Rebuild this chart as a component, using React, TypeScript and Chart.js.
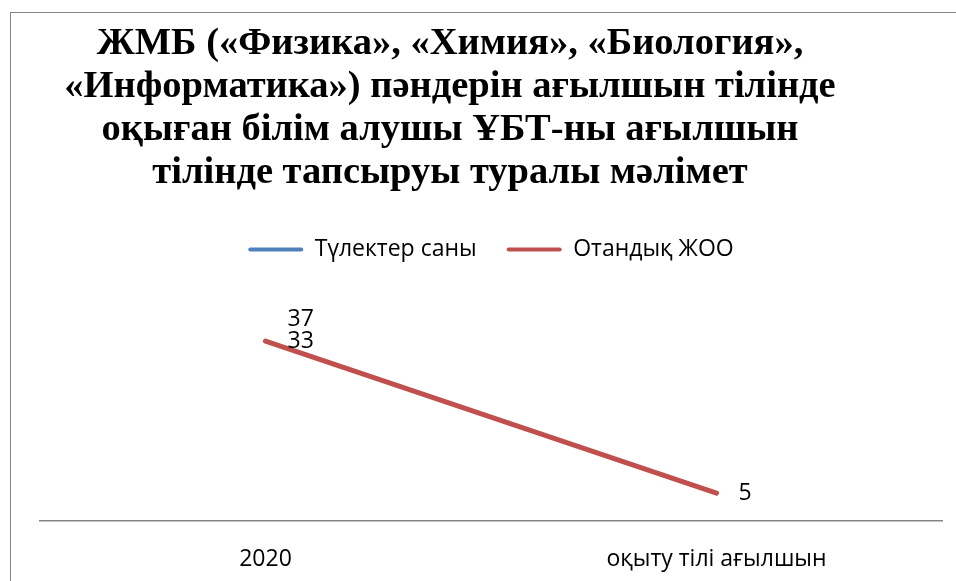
import React, { useEffect, useRef } from 'react';
import { Chart, registerables } from 'chart.js';

Chart.register(...registerables);

const TITLE_LINES = [
  'ЖМБ («Физика», «Химия», «Биология»,',
  '«Информатика») пәндерін ағылшын тілінде',
  'оқыған білім алушы ҰБТ-ны ағылшын',
  'тілінде тапсыруы туралы мәлімет',
];
const CATEGORIES = ['2020', 'оқыту тілі ағылшын'];
const SERIES_NAMES = ['Түлектер саны', 'Отандық ЖОО'];
const GRADUATES: (number | null)[] = [37, null];
const DOMESTIC_UNI: (number | null)[] = [33, 5];
const Y_MIN = 0;
const Y_MAX = 40;

const SANS = '"Open Sans", "Noto Sans", sans-serif';
const FONT_SIZE = 23;
const BLUE = '#4F81BD';
const RED = '#C0504D';

const valueLabels = {
  id: 'valueLabels',
  afterDatasetsDraw(chart: any) {
    const ctx = chart.ctx;
    ctx.save();
    ctx.font = `${FONT_SIZE}px ${SANS}`;
    ctx.fillStyle = '#000';
    ctx.textAlign = 'left';
    ctx.textBaseline = 'middle';
    chart.data.datasets.forEach((ds: any, di: number) => {
      const meta = chart.getDatasetMeta(di);
      meta.data.forEach((pt: any, i: number) => {
        const v = ds.data[i];
        if (v == null || !isFinite(pt.x) || !isFinite(pt.y)) return;
        ctx.fillText(String(v), pt.x + 22, pt.y);
      });
    });
    ctx.restore();
  },
};

const legendGap = {
  id: 'legendGap',
  beforeLayout(chart: any) {
    const lg = chart.legend;
    if (lg && !lg.__gap) {
      const fit = lg.fit;
      lg.fit = function () {
        fit.call(this);
        this.height += 32;
      };
      lg.__gap = true;
    }
  },
};

export default function App() {
  const ref = useRef<HTMLCanvasElement | null>(null);

  useEffect(() => {
    document.body.style.overflow = 'hidden';
    const canvas = ref.current;
    if (!canvas) return;
    const defaultGen = (Chart as any).defaults.plugins.legend.labels.generateLabels;
    const chart = new Chart(canvas, {
      type: 'line',
      data: {
        labels: CATEGORIES,
        datasets: [
          {
            label: SERIES_NAMES[0],
            data: GRADUATES,
            borderColor: BLUE,
            backgroundColor: BLUE,
            borderWidth: 5,
            pointRadius: 0,
            pointHoverRadius: 0,
            borderCapStyle: 'butt',
            spanGaps: false,
          },
          {
            label: SERIES_NAMES[1],
            data: DOMESTIC_UNI,
            borderColor: RED,
            backgroundColor: RED,
            borderWidth: 5,
            pointRadius: 0,
            pointHoverRadius: 0,
            borderCapStyle: 'round',
          },
        ],
      },
      options: {
        responsive: false,
        animation: false,
        clip: false as any,
        layout: { padding: { top: 195, left: 29, right: 14, bottom: 0 } },
        plugins: {
          title: { display: false },
          tooltip: { enabled: false },
          legend: {
            display: true,
            position: 'top',
            labels: {
              color: '#000',
              font: { family: SANS, size: FONT_SIZE },
              boxWidth: 55,
              boxHeight: 4,
              padding: 30,
              useBorderRadius: true,
              borderRadius: 2,
              generateLabels: (c: any) =>
                defaultGen(c).map((it: any) => ({
                  ...it,
                  fillStyle: it.strokeStyle,
                  lineWidth: 0,
                })),
            },
          },
        },
        scales: {
          x: {
            type: 'category',
            offset: true,
            grid: { display: false, drawTicks: false },
            border: { display: true, color: '#868686', width: 1.5 },
            ticks: {
              color: '#000',
              font: { family: SANS, size: FONT_SIZE },
              padding: 25,
              maxRotation: 0,
              autoSkip: false,
            },
          },
          y: {
            display: false,
            min: Y_MIN,
            max: Y_MAX,
          },
        },
      },
      plugins: [valueLabels, legendGap],
    } as any);
    return () => chart.destroy();
  }, []);

  return (
    <div>
      <div
        style={{
          position: 'absolute',
          left: 10,
          top: 12,
          width: 945,
          height: 568,
          overflow: 'hidden',
          borderLeft: '1px solid #868686',
          borderTop: '1px solid #868686',
          background: '#fff',
        }}
      >
        <canvas ref={ref} width={945} height={585} style={{ display: 'block' }} />
      </div>
      <div
        style={{
          position: 'absolute',
          left: 0,
          top: 20,
          width: 900,
          textAlign: 'center',
          fontFamily: '"Liberation Serif", "Times New Roman", serif',
          fontWeight: 'bold',
          fontSize: 38.5,
          lineHeight: '43px',
          color: '#000',
          whiteSpace: 'nowrap',
        }}
      >
        {TITLE_LINES.map((l, i) => (
          <div key={i}>{l}</div>
        ))}
      </div>
    </div>
  );
}
